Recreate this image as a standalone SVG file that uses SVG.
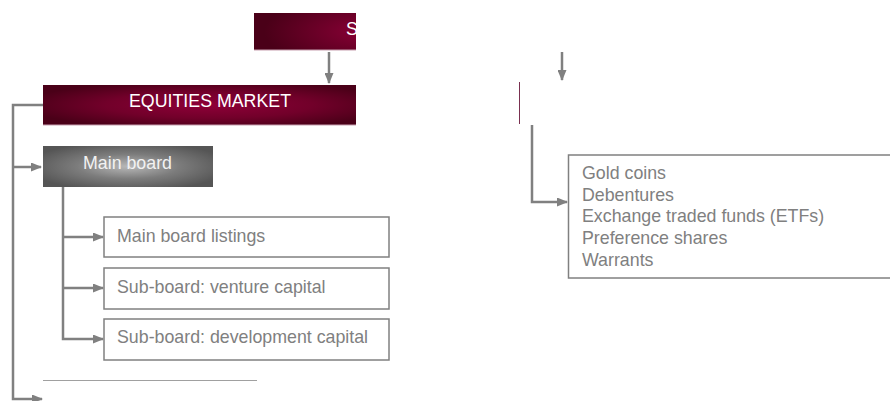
<svg xmlns="http://www.w3.org/2000/svg" width="890" height="401" viewBox="0 0 890 401">
<style>
.t{font-family:"Liberation Sans",Arial,sans-serif;font-size:17.8px;fill:#808080}
.w{font-family:"Liberation Sans",Arial,sans-serif;font-size:17.8px;fill:#ffffff}
.box{fill:#ffffff;stroke:#808080;stroke-width:1.5}
.c{fill:none;stroke:#808080;stroke-width:2.5}
</style>
<defs>
<marker id="ah" markerUnits="userSpaceOnUse" markerWidth="11" markerHeight="9" refX="10" refY="4.5" orient="auto">
<path d="M0,0 L11,4.5 L0,9 z" fill="#808080"/>
</marker>
<radialGradient id="gTop" cx="1.1" cy="0.5" r="1.0" fx="1.1" fy="0.5">
<stop offset="0" stop-color="#8a0036"/>
<stop offset="1" stop-color="#4a0018"/>
</radialGradient>
<radialGradient id="gEq" cx="0.53" cy="0.5" r="0.6">
<stop offset="0" stop-color="#8e0038"/>
<stop offset="0.55" stop-color="#72002a"/>
<stop offset="1" stop-color="#4a0018"/>
</radialGradient>
<radialGradient id="gMain" cx="0.5" cy="0.5" r="0.6">
<stop offset="0" stop-color="#b8b8b8"/>
<stop offset="0.5" stop-color="#7c7c7c"/>
<stop offset="1" stop-color="#555555"/>
</radialGradient>
</defs>
<g id="top-box">
<rect x="254" y="13" width="102" height="37" fill="url(#gTop)"/>
<line x1="254" y1="50" x2="356" y2="50" stroke="#c8a0b0" stroke-width="1"/>
<text class="w" x="346" y="35">S</text>
</g>
<g id="equities-market">
<rect x="43" y="85" width="313" height="40" fill="url(#gEq)"/>
<line x1="43" y1="125" x2="356" y2="125" stroke="#c8a0b0" stroke-width="1"/>
<text class="w" x="129" y="107">EQUITIES MARKET</text>
</g>
<g id="right-edge">
<line x1="519.5" y1="82" x2="519.5" y2="124" stroke="#7a3050" stroke-width="1"/>
</g>
<g id="main-board">
<rect x="43" y="146" width="170" height="41" fill="url(#gMain)"/>
<text class="w" x="83" y="169" style="fill:#f2f2f2">Main board</text>
</g>
<g id="main-board-listings">
<rect class="box" x="104" y="217" width="285" height="40"/>
<text class="t" x="117" y="242">Main board listings</text>
</g>
<g id="venture-capital">
<rect class="box" x="104" y="268" width="285" height="41"/>
<text class="t" x="117" y="293">Sub-board: venture capital</text>
</g>
<g id="development-capital">
<rect class="box" x="104" y="319" width="285" height="41"/>
<text class="t" x="117" y="343">Sub-board: development capital</text>
</g>
<g id="instruments">
<rect class="box" x="568.5" y="155" width="330" height="123"/>
<text class="t" x="582" y="179">Gold coins</text>
<text class="t" x="582" y="201">Debentures</text>
<text class="t" x="582" y="222">Exchange traded funds (ETFs)</text>
<text class="t" x="582" y="244">Preference shares</text>
<text class="t" x="582" y="266">Warrants</text>
</g>
<g id="separator">
<line x1="43" y1="380.5" x2="257" y2="380.5" stroke="#a0a0a0" stroke-width="1"/>
</g>
<g id="connectors">
<path class="c" d="M329,52 V83" marker-end="url(#ah)"/>
<path class="c" d="M562,52 V80" marker-end="url(#ah)"/>
<path class="c" d="M43,105 H13 V399 H42" marker-end="url(#ah)"/>
<path class="c" d="M13,167 H41" marker-end="url(#ah)"/>
<path class="c" d="M63,187 V339 H103" marker-end="url(#ah)"/>
<path class="c" d="M63,237 H103" marker-end="url(#ah)"/>
<path class="c" d="M63,288 H103" marker-end="url(#ah)"/>
<path class="c" d="M532,125 V202 H567" marker-end="url(#ah)"/>
</g>
</svg>
